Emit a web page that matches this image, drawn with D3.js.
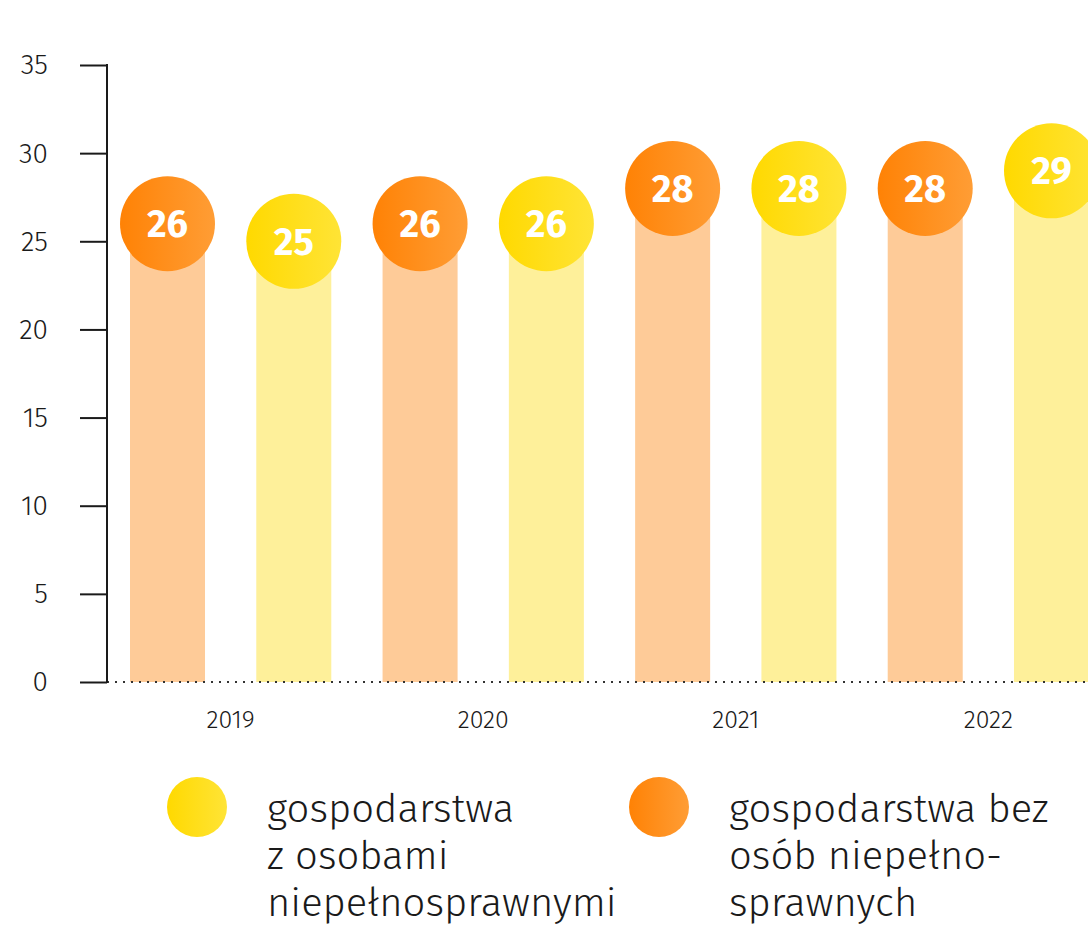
<!DOCTYPE html>
<html>
<head>
<meta charset="utf-8">
<script src="https://cdn.jsdelivr.net/npm/d3@7"></script>
<style>
  body { margin: 0; background: #fff; }
  svg { display: block; font-family: "Fira Sans", "Open Sans", sans-serif; }
</style>
</head>
<body>
<div id="chart"></div>
<script>
// dane
var lata = ["2019", "2020", "2021", "2022"];
var seria = ["bez", "z"];
var wartosciBez = [26, 26, 28, 28];   // gospodarstwa bez osób niepełnosprawnych
var wartosciZ = [25, 26, 28, 29];     // gospodarstwa z osobami niepełnosprawnymi
var yTicks = [0, 5, 10, 15, 20, 25, 30, 35];
var legenda = [
  { key: "z", linie: ["gospodarstwa", "z osobami", "niepełnosprawnymi"] },
  { key: "bez", linie: ["gospodarstwa bez", "osób niepełno-", "sprawnych"] }
];

var kolory = {
  bez: { jasny: "#fecb98", od: "#ff8205", do: "#ff9d35" },
  z:   { jasny: "#fef09a", od: "#ffd900", do: "#ffe436" }
};
var fuente = "'Fira Sans', 'Open Sans', sans-serif";

// dane płaskie: rok + seria
var punkty = [];
lata.forEach(function(rok, i) {
  punkty.push({ rok: rok, seria: "bez", wartosc: wartosciBez[i] });
  punkty.push({ rok: rok, seria: "z", wartosc: wartosciZ[i] });
});

var svgWidth = 1088, svgHeight = 925;
var svg = d3.select("#chart").append("svg")
    .attr("width", svgWidth)
    .attr("height", svgHeight);

var defs = svg.append("defs");
seria.forEach(function(s) {
  var g = defs.append("linearGradient").attr("id", "grad-" + s)
      .attr("x1", "0%").attr("x2", "100%").attr("y1", "0%").attr("y2", "0%");
  g.append("stop").attr("offset", "0%").attr("stop-color", kolory[s].od);
  g.append("stop").attr("offset", "100%").attr("stop-color", kolory[s].do);
});

var axisX = 107, baseY = 682;

// Skala X: jedna pozycja na słupek
var xScale = d3.scaleBand()
    .domain(punkty.map(function(d) { return d.rok + d.seria; }))
    .range([130, 1089])
    .paddingInner(0.406)
    .paddingOuter(0);

// Skala Y
var yScale = d3.scaleLinear()
    .domain([0, 35])
    .range([baseY, 65]);

// Słupki
svg.append("g").selectAll("rect")
  .data(punkty)
  .enter().append("rect")
    .attr("x", function(d) { return xScale(d.rok + d.seria); })
    .attr("y", function(d) { return yScale(d.wartosc); })
    .attr("width", xScale.bandwidth())
    .attr("height", function(d) { return baseY - yScale(d.wartosc); })
    .attr("fill", function(d) { return kolory[d.seria].jasny; });

// Linia kropkowana
svg.append("line")
    .attr("x1", axisX).attr("x2", svgWidth)
    .attr("y1", baseY).attr("y2", baseY)
    .attr("stroke", "#333")
    .attr("stroke-width", 2)
    .attr("stroke-dasharray", "2,6");

// Oś Y
var osY = svg.append("g")
    .attr("transform", "translate(" + axisX + ",0)")
    .call(d3.axisLeft(yScale).tickValues(yTicks).tickSize(27).tickPadding(32));
osY.select(".domain").remove();
osY.attr("font-family", null);
osY.selectAll("line").attr("stroke", "#1a1a1a").attr("stroke-width", 2);
osY.selectAll("text")
    .style("font-family", fuente)
    .style("font-size", "28px")
    .style("font-weight", 300)
    .style("fill", "#1a1a1a");
svg.append("line")
    .attr("x1", axisX).attr("x2", axisX)
    .attr("y1", yScale(35) - 1).attr("y2", baseY + 1)
    .attr("stroke", "#1a1a1a")
    .attr("stroke-width", 2);

// Etykiety lat
svg.append("g").selectAll("text")
  .data(lata)
  .enter().append("text")
    .attr("x", function(d) {
      return (xScale(d + "bez") + xScale(d + "z") + xScale.bandwidth()) / 2;
    })
    .attr("y", 728)
    .attr("text-anchor", "middle")
    .style("font-size", "25px")
    .style("font-weight", 300)
    .style("fill", "#1a1a1a")
    .text(function(d) { return d; });

// Kółka z wartościami
var kolka = svg.append("g").selectAll("g")
  .data(punkty)
  .enter().append("g")
    .attr("transform", function(d) {
      return "translate(" + (xScale(d.rok + d.seria) + xScale.bandwidth() / 2) + "," + yScale(d.wartosc) + ")";
    });
kolka.append("circle")
    .attr("r", 47.5)
    .attr("fill", function(d) { return "url(#grad-" + d.seria + ")"; });
kolka.append("text")
    .attr("text-anchor", "middle")
    .attr("dy", "0.36em")
    .style("font-size", "38px")
    .style("font-weight", 700)
    .style("fill", "#fff")
    .text(function(d) { return d.wartosc; });

// Legenda
var legX = [197, 659];
var leg = svg.append("g").selectAll("g")
  .data(legenda)
  .enter().append("g")
    .attr("transform", function(d, i) { return "translate(" + legX[i] + ",807)"; });
leg.append("circle")
    .attr("r", 30)
    .attr("fill", function(d) { return "url(#grad-" + d.key + ")"; });
leg.append("text")
    .attr("x", 70)
    .attr("y", 15)
    .style("font-size", "40px")
    .style("font-weight", 300)
    .style("fill", "#1a1a1a")
  .selectAll("tspan")
  .data(function(d) { return d.linie; })
  .enter().append("tspan")
    .attr("x", function(d, i, n) { return 70; })
    .attr("dy", function(d, i) { return i === 0 ? 0 : 47; })
    .text(function(d) { return d; });
</script>
</body>
</html>
